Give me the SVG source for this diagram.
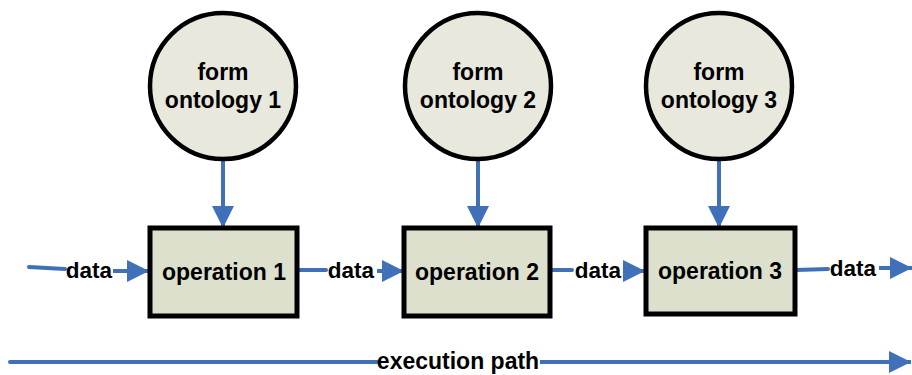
<svg xmlns="http://www.w3.org/2000/svg" width="912" height="375" viewBox="0 0 912 375">
<defs>
<marker id="ah" viewBox="0 0 10 10" refX="10" refY="5" markerWidth="5.5" markerHeight="5.5" orient="auto">
<path d="M0,0 L10,5 L0,10 z" fill="#4071B8"/>
</marker>
<style>
.c{fill:#E8E8DD;stroke:#000;stroke-width:4.5}
.b{fill:#DDE0CC;stroke:#000;stroke-width:5}
.t{font-family:"Liberation Sans",Arial,sans-serif;font-weight:bold;fill:#000;text-anchor:middle}
.n{font-size:23px}
.o{font-size:23px}
.d{font-size:22.5px}
.l{stroke:#4071B8;stroke-width:4;fill:none;stroke-linecap:round}
.m{marker-end:url(#ah);stroke-linecap:butt}
</style>
</defs>
<rect width="912" height="375" fill="#fff"/>
<g id="connectors">
<line class="l m" x1="223" y1="159" x2="223" y2="228"/>
<line class="l m" x1="478" y1="159" x2="478" y2="228"/>
<line class="l m" x1="719" y1="159" x2="719" y2="228"/>
<line class="l" x1="29" y1="267" x2="65" y2="269"/>
<line class="l m" x1="113" y1="271" x2="149" y2="271"/>
<line class="l" x1="298" y1="270" x2="326" y2="270"/>
<line class="l m" x1="377" y1="271" x2="404" y2="271"/>
<line class="l" x1="552" y1="270" x2="572" y2="270"/>
<line class="l m" x1="624" y1="271" x2="645" y2="271"/>
<line class="l" x1="796" y1="270" x2="828" y2="269"/>
<line class="l m" x1="879" y1="268" x2="912" y2="268"/>
<line class="l" x1="10" y1="362" x2="377" y2="362"/>
<line class="l m" x1="540" y1="362" x2="911" y2="362"/>
<text class="t d" x="89" y="278">data</text>
<text class="t d" x="351" y="278">data</text>
<text class="t d" x="598" y="278">data</text>
<text class="t d" x="853" y="276">data</text>
<text class="t o" x="458" y="369">execution path</text>
</g>
<g id="ontology1">
<circle class="c" cx="223" cy="86" r="73"/>
<text class="t n" x="223" y="80">form</text>
<text class="t n" x="223" y="108">ontology 1</text>
</g>
<g id="ontology2">
<circle class="c" cx="478" cy="86" r="73"/>
<text class="t n" x="478" y="80">form</text>
<text class="t n" x="478" y="108">ontology 2</text>
</g>
<g id="ontology3">
<circle class="c" cx="719" cy="86" r="73"/>
<text class="t n" x="719" y="80">form</text>
<text class="t n" x="719" y="108">ontology 3</text>
</g>
<g id="operation1">
<rect class="b" x="150" y="228" width="147" height="88"/>
<text class="t o" x="224" y="280">operation 1</text>
</g>
<g id="operation2">
<rect class="b" x="404" y="228" width="146" height="88"/>
<text class="t o" x="477" y="280">operation 2</text>
</g>
<g id="operation3">
<rect class="b" x="646" y="228" width="149" height="86"/>
<text class="t o" x="720" y="279">operation 3</text>
</g>
</svg>
